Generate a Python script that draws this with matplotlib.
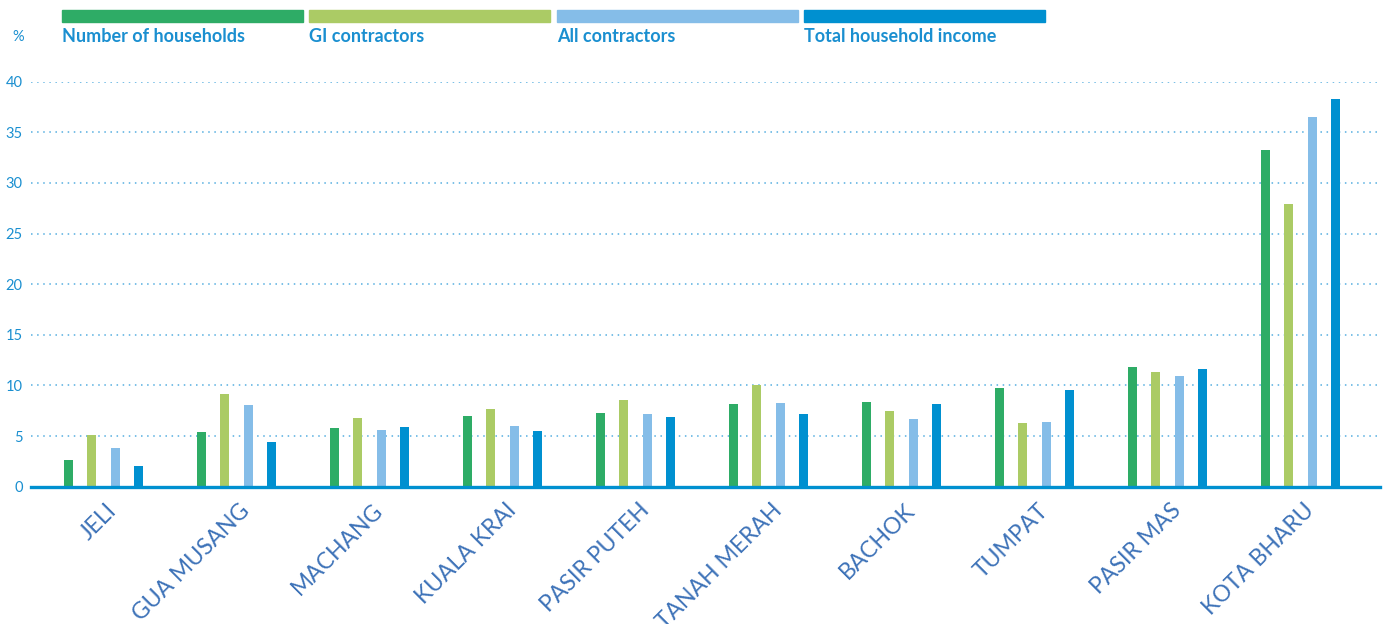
import matplotlib
matplotlib.use("Agg")
import matplotlib.pyplot as plt
from matplotlib.patches import Rectangle
import numpy as np

districts = ["JELI", "GUA MUSANG", "MACHANG", "KUALA KRAI", "PASIR PUTEH",
             "TANAH MERAH", "BACHOK", "TUMPAT", "PASIR MAS", "KOTA BHARU"]
series_names = ["Number of households", "GI contractors", "All contractors",
                "Total household income"]
households = [2.6, 5.4, 5.8, 7.0, 7.3, 8.2, 8.4, 9.7, 11.8, 33.3]
gi_contractors = [5.1, 9.2, 6.8, 7.7, 8.6, 10.0, 7.5, 6.3, 11.3, 27.9]
all_contractors = [3.8, 8.1, 5.6, 6.0, 7.2, 8.3, 6.7, 6.4, 10.9, 36.5]
household_income = [2.0, 4.4, 5.9, 5.5, 6.9, 7.2, 8.2, 9.6, 11.6, 38.3]
yticks = [0, 5, 10, 15, 20, 25, 30, 35, 40]

colors = ["#2eac66", "#abcb65", "#85bde8", "#0090d0"]
text_blue = "#1a8fd0"
label_blue = "#3d72b8"
font = ["Lato", "DejaVu Sans"]

W, H = 1389, 624
fig = plt.figure(figsize=(W / 100, H / 100), dpi=100)
ax = fig.add_axes([31 / W, 1 - 486.7 / H, (1380 - 31) / W, (486.7 - 81.7) / H])

x = np.arange(len(districts))
offsets = [-0.265, -0.09, 0.087, 0.265]
width = 0.068
for vals, off, c in zip([households, gi_contractors, all_contractors, household_income],
                        offsets, colors):
    ax.bar(x + off, vals, width=width, color=c, zorder=3)

ax.set_xlim(-0.545, 9.598)
ax.set_ylim(0, 40)
ax.set_yticks(yticks)
ax.set_yticklabels([str(v) for v in yticks], color=text_blue, fontsize=10.5,
                   family=font)
for v in yticks[1:]:
    ax.axhline(v, color="#55aee0", lw=1.1, ls=(0, (1, 3)), zorder=1)

for s in ["top", "right", "left"]:
    ax.spines[s].set_visible(False)
ax.spines["bottom"].set_color("#0090d0")
ax.spines["bottom"].set_linewidth(2.4)
ax.spines["bottom"].set_zorder(4)
ax.tick_params(axis="y", length=0, pad=6)
ax.tick_params(axis="x", length=0)

ax.set_xticks(x + 0.02)
ax.set_xticklabels(districts, rotation=45, ha="right", va="top",
                   rotation_mode="anchor", color=label_blue, fontsize=16.5,
                   family=font)
for lbl in ax.get_xticklabels():
    lbl.set_y(-0.02)

# Legend bars with labels across the top
lx = [62, 309, 557, 804]
for left, c, name in zip(lx, colors, series_names):
    fig.patches.append(Rectangle((left / W, 1 - 22 / H), 241 / W, 12 / H,
                                 transform=fig.transFigure, color=c))
    fig.text(left / W, 1 - 37 / H, name, color=text_blue, fontsize=13,
             fontweight="bold", family=font, va="center", ha="left")
fig.text(12 / W, 1 - 37 / H, "%", color=text_blue, fontsize=10.5, family=font,
         va="center", ha="left")

fig.savefig("out.png", dpi=100)
